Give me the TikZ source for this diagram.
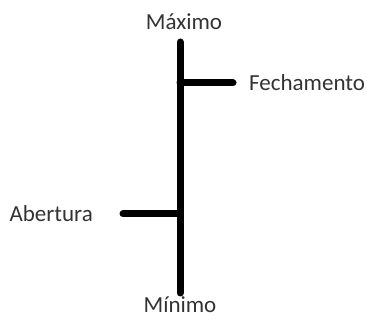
\documentclass[tikz,border=0pt]{standalone}
\usepackage{fontspec}
\setmainfont{Carlito}
\usepackage{tikz}
\usetikzlibrary{calc, positioning}

\begin{document}
\begin{tikzpicture}[x=1pt, y=-1pt, line cap=round,
    rotulo/.style={text=black!80, inner sep=0pt, font=\fontsize{23}{27}\selectfont},
    haste/.style={black, line width=7pt}]
    \useasboundingbox (0,0) rectangle (367,320);

    % 1. Pontos da haste vertical
    \coordinate (topo) at (180,42);
    \coordinate (base) at (180,293);
    \coordinate (fech) at (180,83);
    \coordinate (aber) at (180,214);

    % 2. Rótulos
    \node[rotulo] (maximo) at (184,22) {Máximo};
    \node[rotulo] (minimo) at (180,305) {Mínimo};
    \node[rotulo, anchor=west] (fechamento) at (249,83) {Fechamento};
    \node[rotulo, anchor=east] (abertura) at (93,214) {Abertura};

    % 3. Haste e traços de abertura e fechamento
    \draw[haste] (topo) -- (base);
    \draw[haste] (fech) -- ($(fechamento.west)+(-16,0)$);
    \draw[haste] (aber) -- ($(abertura.east)+(30,0)$);

\end{tikzpicture}
\end{document}
